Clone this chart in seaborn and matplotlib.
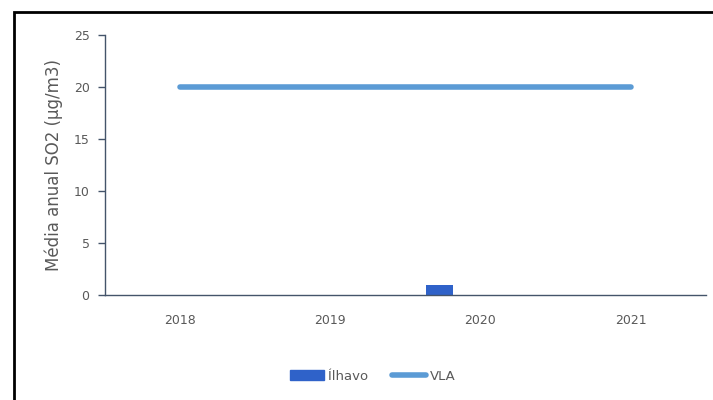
import numpy as np
import pandas as pd
import matplotlib
matplotlib.use('Agg')
import matplotlib.pyplot as plt
import matplotlib.patches as mpatches
import matplotlib.lines as mlines
import seaborn as sns

# ---------- 数据 ----------
years = ['2018', '2019', '2020', '2021']
ilhavo = [np.nan, np.nan, 1.0, np.nan]   # Média anual SO2 em Ílhavo
vla = [20, 20, 20, 20]                   # valor limite anual
# séries vazias do gráfico original (ocupam lugar no agrupamento)
series_order = ['Ílhavo', 's2', 's3', 's4']

sns.set_style('white')
plt.rcParams['font.family'] = ['DejaVu Sans']

df_bar = pd.DataFrame({'ano': years, 'valor': ilhavo, 'serie': 'Ílhavo'})
df_line = pd.DataFrame({'ano': years, 'valor': vla})

fig = plt.figure(figsize=(7.13, 4.0), dpi=100)
ax = fig.add_axes([0.147, 0.2625, 0.843, 0.65])

sns.barplot(data=df_bar, x='ano', y='valor', hue='serie', hue_order=series_order,
            order=years, palette=['#2f62c9'] * 4, width=0.72, saturation=1,
            dodge=True, linewidth=0, legend=False, ax=ax)
sns.lineplot(data=df_line, x='ano', y='valor', color='#5b9bd5', linewidth=4,
             solid_capstyle='round', ax=ax)

ax.set_ylim(0, 25)
ax.set_xlim(-0.5, 3.5)
ax.set_yticks([0, 5, 10, 15, 20, 25])
ax.set_xlabel('')
ax.set_ylabel('Média anual SO2 (µg/m3)', fontsize=12, color='#595959', labelpad=8)
ax.tick_params(axis='y', left=True, length=5, width=1, color='#44546a',
               labelsize=9, labelcolor='#595959', pad=6)
ax.tick_params(axis='x', bottom=False, labelsize=9, labelcolor='#595959', pad=10)
for s in ['top', 'right']:
    ax.spines[s].set_visible(False)
for s in ['left', 'bottom']:
    ax.spines[s].set_color('#44546a')
    ax.spines[s].set_linewidth(1)

# legenda
h_bar = mpatches.Patch(color='#2f62c9', label='Ílhavo')
h_line = mlines.Line2D([], [], color='#5b9bd5', linewidth=4, label='VLA')
fig.legend(handles=[h_bar, h_line], loc='center', bbox_to_anchor=(0.523, 0.06),
           ncol=2, frameon=False, fontsize=9.5, handlelength=2.6,
           handletextpad=0.3, columnspacing=1.8, labelcolor='#595959')

# moldura preta
fig.patches.append(mpatches.Rectangle((14 / 713, -0.05), 1.1, 1 - 12 / 400 + 0.05,
                                      transform=fig.transFigure, fill=False,
                                      edgecolor='black', linewidth=2))

fig.savefig('out.png', dpi=100)
